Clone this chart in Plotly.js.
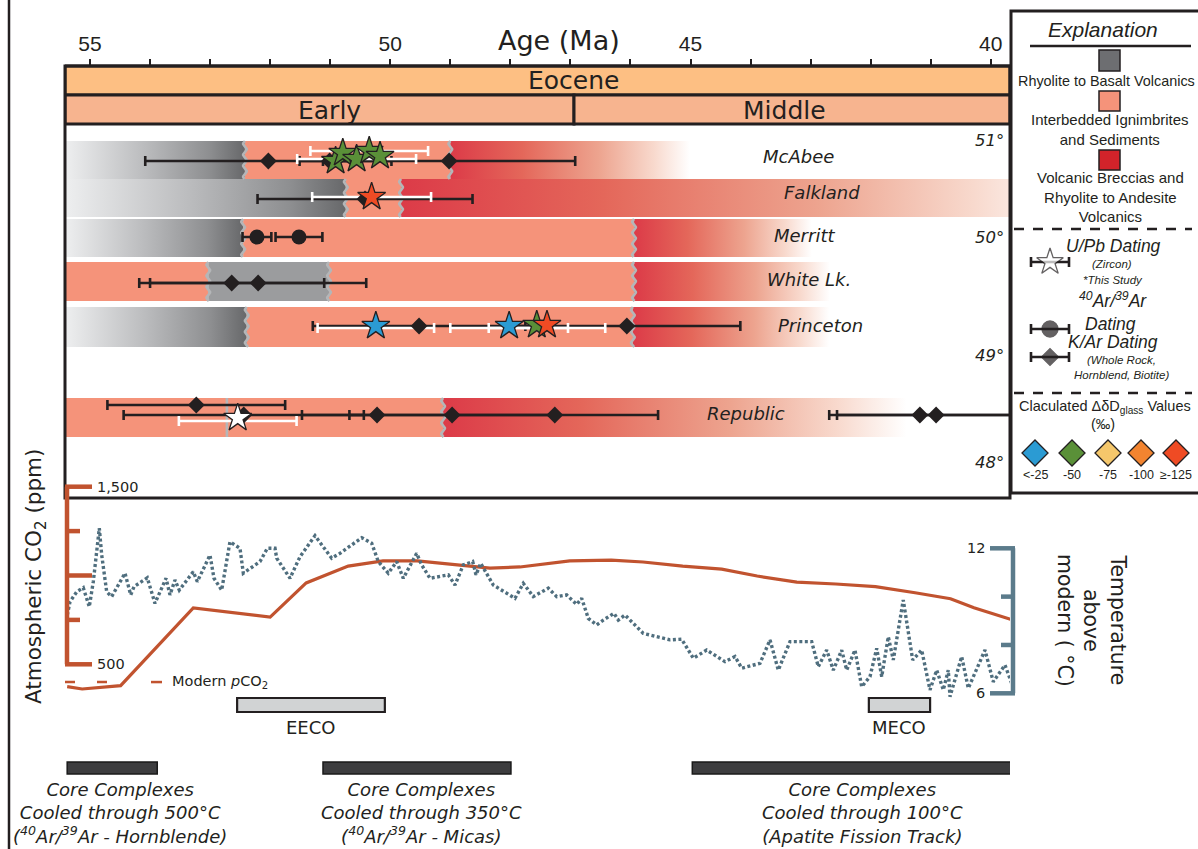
<!DOCTYPE html>
<html><head><meta charset="utf-8">
<script src="https://cdn.plot.ly/plotly-3.0.1.min.js"></script>
<style>html,body{margin:0;padding:0;background:#fff}#chart{width:1198px;height:849px}</style>
</head><body><div id="chart"></div>
<script>
// ================= DATA =================
const ageTicks = [55,54,53,52,51,50,49,48,47,46,45,44,43,42,41,40];
const ageLabelTicks = [55,50,45,40];
const earlyMiddleBoundary = 46.94;
const sites = ['McAbee','Falkland','Merritt','White Lk.','Princeton','Republic'];
const latLabels = ['51°','50°','49°','48°'];

// lithology segments
const segSite = ['McAbee','McAbee','McAbee','Falkland','Falkland','Falkland','Merritt','Merritt','Merritt','White Lk.','White Lk.','White Lk.','White Lk.','Princeton','Princeton','Princeton','Republic','Republic'];
const segFrom = [55.42,52.42,49.00, 55.42,50.74,49.82, 55.42,52.45,45.94, 55.42,53.03,51.02,45.94, 55.42,52.39,45.96, 55.42,49.12];
const segTo   = [52.42,49.00,45.01, 50.74,49.82,38.60, 52.45,45.94,42.98, 53.03,51.02,45.94,42.68, 52.39,45.96,42.69, 49.12,41.40];
const segUnit = ['volc','ign','brec','volc','ign','brec','volc','ign','brec','ign','volc','ign','brec','volc','ign','brec','ign','brec'];
const extraContactSite = ['Republic'];
const extraContactAge = [52.72];

// K/Ar dates
const karSite = ['McAbee','McAbee','McAbee','Falkland','White Lk.','White Lk.','Princeton','Princeton','Republic','Republic','Republic','Republic','Republic','Republic','Republic'];
const karAge  = [52.03,51.01,49.02,50.42,52.64,52.20,49.52,46.06,53.23,52.44,50.22,48.97,47.26,41.18,40.91];
const karErr  = [2.05,0.50,2.10,1.79,1.54,1.80,1.77,1.89,1.48,2.00,1.25,1.71,1.72,1.51,1.65];
// 40Ar/39Ar dates
const arSite = ['Merritt','Merritt'];
const arAge  = [52.22,51.52];
const arErr  = [0.24,0.39];
// U/Pb zircon dates (this study) with ΔδD class
const upbSite = ['McAbee','McAbee','McAbee','McAbee','McAbee','Falkland','Princeton','Princeton','Princeton','Princeton','Republic'];
const upbAge  = [50.91,50.79,50.56,50.35,50.17,50.31,50.24,48.02,47.56,47.39,52.54];
const upbErr  = [0,0,0.99,0.98,0,0.99,0.97,0.98,0,0.97,0.98];
const upbDD   = ['-50','-50','-50','-50','-50','≥-125','<-25','<-25','-50','≥-125',''];
const ddClasses = ['<-25','-50','-75','-100','≥-125'];

// Atmospheric CO2 (ppm)
const co2Age = [55.38,55.13,54.49,53.50,53.28,52.00,51.40,50.70,50.12,49.55,48.34,47.84,47.01,46.32,45.79,45.13,44.48,43.89,43.23,42.58,41.92,41.26,40.67,40.28,39.65];
const co2Ppm = [374,361,380,733,817,766,958,1053,1082,1082,1042,1048,1082,1087,1076,1053,1036,997,963,952,937,903,869,818,751];
const modernCO2 = 400;
const co2Ticks = [500,750,1000,1250,1500];

// Temperature above modern (°C)
const tempAge = [55.378,55.333,55.221,55.112,55.012,54.945,54.845,54.805,54.722,54.639,54.417,54.322,54.267,54.046,53.918,53.734,53.668,53.585,53.513,53.280,53.213,53.113,53.002,52.935,52.807,52.669,52.502,52.447,52.169,52.047,51.919,51.891,51.669,51.503,51.253,50.975,50.837,50.475,50.309,50.199,50.033,49.893,49.783,49.560,49.476,49.338,49.033,48.922,48.784,48.627,48.572,48.494,48.284,47.923,47.784,47.618,47.368,47.228,47.062,46.895,46.812,46.702,46.562,46.452,46.274,46.202,46.091,45.786,45.341,45.147,44.953,44.730,44.426,44.259,44.147,43.843,43.676,43.538,43.343,42.982,42.872,42.732,42.622,42.482,42.399,42.261,42.149,42.011,41.899,41.816,41.706,41.623,41.457,41.300,41.150,41.012,40.900,40.790,40.707,40.679,40.484,40.374,40.096,39.958,39.763,39.651];
const tempC = [9.24,9.79,10.20,10.37,9.58,10.62,12.83,11.72,10.20,10.00,10.97,10.07,10.41,10.78,9.72,10.76,10.07,10.69,10.27,11.03,10.62,11.17,11.72,10.76,10.27,12.27,12.00,10.97,11.45,12.00,12.00,11.59,10.76,11.65,12.52,11.59,11.79,12.44,12.21,11.45,10.97,11.45,10.76,11.79,11.31,10.76,10.90,10.48,11.31,11.45,10.90,11.38,10.48,9.93,10.55,10.00,10.35,10.00,10.07,9.68,9.93,9.10,8.83,9.03,9.31,9.03,9.24,8.48,8.21,8.24,7.45,7.79,7.31,7.52,7.04,7.24,8.21,6.96,8.14,8.14,7.10,7.79,6.96,7.79,6.96,7.79,6.27,6.69,7.86,6.69,8.34,7.38,9.86,7.38,7.79,6.14,6.96,6.14,6.96,5.86,7.52,6.21,7.79,6.48,7.17,6.41];
const tempTicks = [6,8,10,12];

// climate events and cooling intervals (Ma)
const eventName = ['EECO','MECO'];
const eventFrom = [52.55,42.03];
const eventTo   = [50.09,41.01];
const coolFrom  = [55.38,51.12,44.97];
const coolTo    = [53.88,47.99,39.65];
const coolLabel = [
  '<i>Core Complexes<br>Cooled through 500°C<br>(<sup>40</sup>Ar/<sup>39</sup>Ar - Hornblende)</i>',
  '<i>Core Complexes<br>Cooled through 350°C<br>(<sup>40</sup>Ar/<sup>39</sup>Ar - Micas)</i>',
  '<i>Core Complexes<br>Cooled through 100°C<br>(Apatite Fission Track)</i>'];

// ================= LAYOUT / STYLE =================
const W = 1198, H = 849;
const px = x => x / W, py = y => 1 - y / H;
const INK = '#231f20';
const FA = 'Liberation Sans, Arial, sans-serif';
const FD = 'DejaVu Sans, sans-serif';
const SALMON = '#f5937a', CO2C = '#c1532f', TEMPC = '#4f6e7e', TAXC = '#5b7b8b';
const ddColor = {'<-25':'#2b9bd3','-50':'#5a9038','-75':'#f5c76b','-100':'#f28430','≥-125':'#ef4b24','':'#ffffff'};
const rowCfg = {
  'McAbee':    {y:161, top:141, bot:179, lx:798, ly:157},
  'Falkland':  {y:199, top:179, bot:217, lx:822, ly:192},
  'Merritt':   {y:237, top:219, bot:257, lx:804, ly:236},
  'White Lk.': {y:283, top:262, bot:301, lx:809, ly:279},
  'Princeton': {y:326, top:307, bot:347, lx:820, ly:325},
  'Republic':  {y:415, top:398, bot:437, lx:746, ly:413}
};
const latPos = [140,237,355,462];
const segFlat = [false,false,false,false,false,false,false,false,false,false,true,false,false,false,false,false,false,false];
const karDy = [0,0,0,0,0,0,0,0,-10,0,0,0,0,0,0];
const upbDy = [0,-8,-2,-10,-5,-2,0,0,-1,-1,3];
const upbBarDy = [0,-8,-2,-10,-5,-2,2,2,1,2,6];
const xRange = [55 + 25/60.05, 55 - 920/60.05];

const traces = [];
const scales = {
  volc: [[0,'#eeeff0'],[0.45,'#babbbd'],[0.8,'#8e8f91'],[1,'#67686a']],
  brec: [[0,'#dc3b48'],[0.3,'#e4675a'],[0.62,'#eda48f'],[0.85,'#f8d9cd'],[1,'#ffffff']]
};
segSite.forEach((s,i)=>{
  const r = rowCfg[s], a = segFrom[i], b = segTo[i];
  const t = {type:'scatter', mode:'lines', x:[a,b,b,a,a], y:[r.top,r.top,r.bot,r.bot,r.top],
    xaxis:'x', yaxis:'y', fill:'toself', line:{width:0}, hoverinfo:'skip', showlegend:false};
  if (segUnit[i]==='ign') t.fillcolor = SALMON;
  else if (segUnit[i]==='volc' && segFlat[i]) t.fillcolor = '#9b9c9e';
  else t.fillgradient = {type:'horizontal', colorscale: scales[segUnit[i]], start:a, stop:b};
  traces.push(t);
});
function wave(age, top, bot, amp){
  const xs=[], ys=[];
  for (let y=top; y<=bot; y+=0.5){ xs.push(age + amp/60.05*Math.sin(2*Math.PI*(y-top)/11)); ys.push(y); }
  return {type:'scatter', mode:'lines', x:xs, y:ys, xaxis:'x', yaxis:'y', line:{color:'#b4b6b8', width:2.6}, hoverinfo:'skip', showlegend:false};
}
segSite.forEach((s,i)=>{ if (i>0 && segSite[i-1]===s){ const r=rowCfg[s]; traces.push(wave(segFrom[i], r.top, r.bot, 1.8)); } });
extraContactSite.forEach((s,i)=>{ const r=rowCfg[s]; traces.push(wave(extraContactAge[i], r.top, r.bot, 0)); });

const ebar = (arr,color)=>({type:'data', symmetric:true, array:arr, color:color, thickness:2.6, width:5});
const inv = {size:1, color:'rgba(0,0,0,0)'};
traces.push({type:'scatter', mode:'markers', x:karAge, y:karSite.map((s,i)=>rowCfg[s].y+karDy[i]), error_x:ebar(karErr,INK), marker:inv, xaxis:'x', yaxis:'y', hoverinfo:'skip', showlegend:false});
traces.push({type:'scatter', mode:'markers', x:arAge, y:arSite.map(s=>rowCfg[s].y), error_x:ebar(arErr,INK), marker:inv, xaxis:'x', yaxis:'y', hoverinfo:'skip', showlegend:false});
traces.push({type:'scatter', mode:'markers', x:upbAge, y:upbSite.map((s,i)=>rowCfg[s].y+upbBarDy[i]), error_x:ebar(upbErr,'#ffffff'), marker:inv, xaxis:'x', yaxis:'y', hoverinfo:'skip', showlegend:false});
traces.push({type:'scatter', mode:'markers', x:karAge, y:karSite.map((s,i)=>rowCfg[s].y+karDy[i]), marker:{symbol:'diamond', size:13, color:INK}, xaxis:'x', yaxis:'y', hoverinfo:'skip', showlegend:false});
traces.push({type:'scatter', mode:'markers', x:arAge, y:arSite.map(s=>rowCfg[s].y), marker:{symbol:'circle', size:15, color:INK}, xaxis:'x', yaxis:'y', hoverinfo:'skip', showlegend:false});
traces.push({type:'scatter', mode:'markers', x:upbAge, y:upbSite.map((s,i)=>rowCfg[s].y+upbDy[i]), marker:{symbol:'star', size:21, color:upbDD.map(d=>ddColor[d]), line:{color:INK, width:1.3}}, xaxis:'x', yaxis:'y', hoverinfo:'skip', showlegend:false});

traces.push({type:'scatter', mode:'lines', x:co2Age, y:co2Ppm, xaxis:'x', yaxis:'y2', line:{color:CO2C, width:3.2}, hoverinfo:'skip', showlegend:false});
traces.push({type:'scatter', mode:'lines', x:tempAge, y:tempC, xaxis:'x', yaxis:'y3', line:{color:TEMPC, width:3.4, dash:'3px,2.5px'}, hoverinfo:'skip', showlegend:false});

// explanation glyphs (overlay pixel axes)
traces.push({type:'scatter', mode:'markers', x:[1050,1050,1050], y:[262,329,357], xaxis:'x2', yaxis:'y4',
  error_x:{type:'constant', value:19, color:INK, thickness:2.6, width:5}, marker:inv, hoverinfo:'skip', showlegend:false});
traces.push({type:'scatter', mode:'markers', x:[1050,1050,1050], y:[262,329,357], xaxis:'x2', yaxis:'y4',
  marker:{symbol:['star','circle','diamond'], size:[20,16,13], color:['#ffffff',INK,INK], line:{color:INK,width:1.3}}, hoverinfo:'skip', showlegend:false});
const ddX = [1035,1072,1108,1141,1176];
traces.push({type:'scatter', mode:'markers', x:ddX, y:ddX.map(()=>453), xaxis:'x2', yaxis:'y4',
  marker:{symbol:'diamond', size:20, color:ddClasses.map(c=>ddColor[c]), line:{color:INK,width:1.3}}, hoverinfo:'skip', showlegend:false});

// ---------- shapes ----------
const shapes = [];
const rectPx = (x0,y0,x1,y1,fill,lc,lw) => ({type:'rect', xref:'paper', yref:'paper', x0:px(x0), x1:px(x1), y0:py(y0), y1:py(y1), fillcolor:fill||'rgba(0,0,0,0)', line:{color:lc||INK, width:lw===undefined?2:lw}});
const linePx = (x0,y0,x1,y1,lc,lw,dash) => ({type:'line', xref:'paper', yref:'paper', x0:px(x0), x1:px(x1), y0:py(y0), y1:py(y1), line:{color:lc||INK, width:lw||2, dash:dash||'solid'}});
shapes.push({type:'rect', xref:'x', yref:'paper', x0:xRange[0], x1:xRange[1], y0:py(66), y1:py(95), fillcolor:'#fdbf83', line:{color:INK,width:3}});
shapes.push({type:'rect', xref:'x', yref:'paper', x0:xRange[0], x1:earlyMiddleBoundary, y0:py(95), y1:py(124), fillcolor:'#f7b48f', line:{color:INK,width:3}});
shapes.push({type:'rect', xref:'x', yref:'paper', x0:earlyMiddleBoundary, x1:xRange[1], y0:py(95), y1:py(124), fillcolor:'#f7b48f', line:{color:INK,width:3}});
shapes.push(rectPx(65,66,1010,498,null,INK,3));
shapes.push(rectPx(1011,11,1200,493,null,INK,3));
shapes.push(linePx(9,0,9,849,INK,2.5));
shapes.push(linePx(1030,46,1191,46,INK,2.5));
shapes.push(linePx(1014,229,1192,229,INK,2.5,'10px,9px'));
shapes.push(linePx(1014,393,1192,393,INK,2.5,'10px,9px'));
shapes.push(rectPx(1099,50,1120,71,'#6d6e71',INK,1.5));
shapes.push(rectPx(1099,91,1120,111,SALMON,INK,1.5));
shapes.push(rectPx(1099,150,1120,170,'#d2232a',INK,1.5));
shapes.push({type:'line', xref:'paper', yref:'y2', x0:px(67), x1:px(67), y0:500, y1:1500, line:{color:CO2C, width:4.5}});
co2Ticks.forEach(v=>{ const long = (v%500===0); shapes.push({type:'line', xref:'paper', yref:'y2', x0:px(65), x1:px(long?92:80), y0:v, y1:v, line:{color:CO2C, width:4.5}}); });
shapes.push({type:'line', xref:'x', yref:'y2', x0:xRange[0], x1:54.52, y0:modernCO2, y1:modernCO2, line:{color:CO2C, width:2.5, dash:'10px,22px'}});
shapes.push({type:'line', xref:'paper', yref:'y2', x0:px(151), x1:px(162), y0:modernCO2, y1:modernCO2, line:{color:CO2C, width:2.5}});
shapes.push({type:'line', xref:'paper', yref:'y3', x0:px(1013), x1:px(1013), y0:6, y1:12, line:{color:TAXC, width:4.5}});
tempTicks.forEach(v=>{ const long = (v===6||v===12); shapes.push({type:'line', xref:'paper', yref:'y3', x0:px(long?990:1001), x1:px(1015), y0:v, y1:v, line:{color:TAXC, width:4.5}}); });
eventName.forEach((n,i)=>shapes.push({type:'rect', xref:'x', yref:'paper', x0:eventFrom[i], x1:eventTo[i], y0:py(698), y1:py(712), fillcolor:'#d1d3d4', line:{color:INK,width:2.2}}));
coolFrom.forEach((f,i)=>shapes.push({type:'rect', xref:'x', yref:'paper', x0:f, x1:coolTo[i], y0:py(762), y1:py(774), fillcolor:'#3d3d3f', line:{color:'#1a1a1a',width:1.5}}));

// ---------- annotations ----------
const ann = [];
const A = (x,y,text,size,o={}) => ann.push(Object.assign({xref:'paper', yref:'paper', x:px(x), y:py(y), text:text, showarrow:false, font:{family:FD, size:size, color:INK}, xanchor:'center', yanchor:'middle'}, o));
A(559,40,'Age (Ma)',27);
A(573,80,'Eocene',25);
A(329,110,'Early',25);
A(784,110,'Middle',25);
sites.forEach(s=>A(rowCfg[s].lx, rowCfg[s].ly, '<i>'+s+'</i>', 18));
latLabels.forEach((t,i)=>A(1006, latPos[i], '<i>'+t+'</i>', 16.5, {xanchor:'right'}));
const L = (x,y,t,s,o={}) => A(x,y,t,s,Object.assign({font:{family:FA,size:s,color:INK}},o));
L(1103,29,'<i>Explanation</i>',21);
L(1106,81,'Rhyolite to Basalt Volcanics',14.4);
L(1110,130,'Interbedded Ignimbrites<br>and Sediments',15);
L(1110,197,'Volcanic Breccias and<br>Rhyolite to Andesite<br>Volcanics',15);
L(1113,246,'<i>U/Pb Dating</i>',17.5);
L(1112,264,'<i>(Zircon)</i>',11.5);
L(1113,280,'<i>*This Study</i>',11.5);
L(1113,300,'<i><sup>40</sup>Ar/<sup>39</sup>Ar</i>',17.5);
L(1110,324,'<i>Dating</i>',17.5);
L(1113,342,'<i>K/Ar Dating</i>',17.5);
L(1121,360,'<i>(Whole Rock,</i>',11.5);
L(1121,375,'<i>Hornblend, Biotite)</i>',11.5);
L(1105,407,'Claculated ΔδD<sub>glass</sub> Values',14.5);
L(1103,424,'(‰)',14.5);
ddClasses.forEach((c,i)=>L(ddX[i],475,c,12.5));
ann.push({xref:'paper', yref:'y2', x:px(95), y:1500, text:'1,500', showarrow:false, xanchor:'left', yanchor:'middle', font:{family:FD,size:14.5,color:INK}});
ann.push({xref:'paper', yref:'y2', x:px(95), y:500, text:'500', showarrow:false, xanchor:'left', yanchor:'middle', font:{family:FD,size:14.5,color:INK}});
ann.push({xref:'paper', yref:'y2', x:px(170), y:modernCO2, text:'Modern <i>p</i>CO<sub>2</sub>', showarrow:false, xanchor:'left', yanchor:'middle', font:{family:FD,size:14.5,color:INK}});
ann.push({xref:'paper', yref:'y3', x:px(987), y:12, text:'12', showarrow:false, xanchor:'right', yanchor:'middle', font:{family:FD,size:14.5,color:INK}});
ann.push({xref:'paper', yref:'y3', x:px(987), y:6, text:'6', showarrow:false, xanchor:'right', yanchor:'middle', font:{family:FD,size:14.5,color:INK}});
A(35,577,'Atmospheric CO<sub>2</sub> (ppm)',21.5,{textangle:-90});
A(1092,620,'Temperature<br>above<br>modern ( °C)',20.5,{textangle:90});
const midPx = (a,b) => 90 + ((55 - (a+b)/2) * 60.05);
eventName.forEach((n,i)=>A(midPx(eventFrom[i],eventTo[i]),727,n,18));
const coolLabelX = [120,421,862];
coolLabel.forEach((t,i)=>A(coolLabelX[i],813,t,18));

const layout = {
  width:W, height:H, margin:{l:0,r:0,t:0,b:0},
  paper_bgcolor:'#ffffff', plot_bgcolor:'rgba(0,0,0,0)', showlegend:false,
  xaxis:{domain:[px(65),px(1010)], range:xRange, anchor:'free', position:py(66), side:'top',
    tickmode:'array', tickvals:ageLabelTicks, ticks:'outside', ticklen:7, tickwidth:2, tickcolor:INK,
    minor:{tickmode:'array', tickvals:ageTicks, ticks:'outside', ticklen:7, tickwidth:2, tickcolor:INK, showgrid:false},
    showline:false, showgrid:false, zeroline:false, tickfont:{family:FA, size:21, color:INK}},
  yaxis:{domain:[py(498),py(124)], range:[498,124], visible:false, anchor:'x'},
  yaxis2:{domain:[py(700),py(480)], range:[299,1537.7], visible:false, anchor:'x'},
  yaxis3:{domain:[py(700),py(480)], range:[5.723,14.826], visible:false, anchor:'x'},
  xaxis2:{domain:[0,1], range:[0,W], visible:false, anchor:'y4'},
  yaxis4:{domain:[0,1], range:[H,0], visible:false, anchor:'x2'},
  shapes:shapes, annotations:ann
};
Plotly.newPlot('chart', traces, layout, {staticPlot:true, displayModeBar:false});
</script></body></html>
